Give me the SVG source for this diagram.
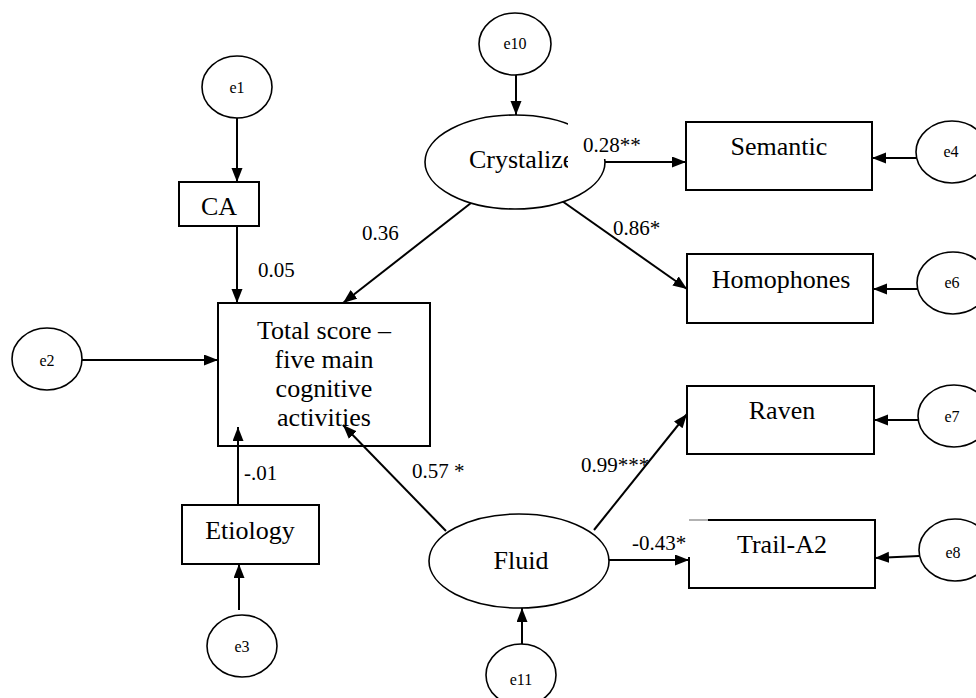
<svg xmlns="http://www.w3.org/2000/svg" width="976" height="698" viewBox="0 0 976 698">
<defs>
<marker id="ah" markerUnits="userSpaceOnUse" markerWidth="15" markerHeight="12" refX="14" refY="5.5" orient="auto">
<path d="M0,0 L14,5.5 L0,11 z" fill="#000"/>
</marker>
<clipPath id="cryclip"><rect x="400" y="100" width="168" height="100"/></clipPath>
<style>
.box{fill:#fff;stroke:#000;stroke-width:2}
.ell{fill:#fff;stroke:#000;stroke-width:1.6}
.c{fill:none;stroke:#000;stroke-width:2;marker-end:url(#ah)}
.t{font-family:"Liberation Serif","Times New Roman",serif;font-size:26px;fill:#000;text-anchor:middle}
.e{font-family:"Liberation Serif","Times New Roman",serif;font-size:16px;fill:#000;text-anchor:middle}
.l{font-family:"Liberation Serif","Times New Roman",serif;font-size:21px;fill:#000}
</style>
</defs>
<rect width="976" height="698" fill="#fff"/>

<g id="connectors">
<line class="c" x1="237" y1="118" x2="237" y2="182"/>
<line class="c" x1="237" y1="226" x2="237" y2="303"/>
<line class="c" x1="82" y1="360" x2="218" y2="360"/>
<line class="c" x1="238" y1="505" x2="238" y2="427"/>
<line class="c" x1="239" y1="610" x2="239" y2="564"/>
<line class="c" x1="516" y1="75" x2="516" y2="115"/>
<line class="c" x1="471" y1="203" x2="343" y2="303"/>
<line class="c" x1="562" y1="201" x2="687" y2="289"/>
<line class="c" x1="604" y1="162" x2="686" y2="162"/>
<line class="c" x1="916" y1="158" x2="872" y2="158"/>
<line class="c" x1="917" y1="289" x2="873" y2="289"/>
<line class="c" x1="918" y1="420" x2="874" y2="420"/>
<line class="c" x1="919" y1="556" x2="875" y2="558"/>
<line class="c" x1="446" y1="531" x2="343" y2="425"/>
<line class="c" x1="594" y1="530" x2="687" y2="414"/>
<line class="c" x1="609" y1="560" x2="689" y2="560"/>
<line class="c" x1="522" y1="644" x2="522" y2="608"/>
</g>

<g id="e1"><ellipse class="ell" cx="237" cy="87" rx="35" ry="31"/><text class="e" x="237" y="93">e1</text></g>
<g id="CA"><rect class="box" x="179" y="182" width="80" height="44"/><text class="t" x="219" y="215">CA</text></g>
<g id="e2"><ellipse class="ell" cx="47" cy="359" rx="35" ry="31"/><text class="e" x="47" y="366">e2</text></g>
<g id="total"><rect class="box" x="218" y="303" width="212" height="143" style="fill:none"/>
<text class="t" x="324" y="339">Total score –</text>
<text class="t" x="324" y="368">five main</text>
<text class="t" x="324" y="397">cognitive</text>
<text class="t" x="324" y="426">activities</text></g>
<g id="etiology"><rect class="box" x="182" y="505" width="137" height="59"/><text class="t" x="250" y="539">Etiology</text></g>
<g id="e3"><ellipse class="ell" cx="242" cy="646" rx="35" ry="31"/><text class="e" x="242" y="652">e3</text></g>
<g id="e10"><ellipse class="ell" cx="515" cy="44" rx="36" ry="31"/><text class="e" x="515" y="49">e10</text></g>
<g id="crystalized"><ellipse class="ell" cx="515" cy="162" rx="90" ry="47"/>
<rect x="568" y="110" width="50" height="49" fill="#fff"/>
<text class="t" x="469" y="168" style="text-anchor:start" clip-path="url(#cryclip)">Crystalized</text></g>
<g id="semantic"><rect class="box" x="686" y="122" width="186" height="68"/><text class="t" x="779" y="155">Semantic</text></g>
<g id="e4"><ellipse class="ell" cx="952" cy="152" rx="36" ry="31"/><text class="e" x="951" y="157">e4</text></g>
<g id="homophones"><rect class="box" x="687" y="254" width="186" height="69"/><text class="t" x="781" y="288">Homophones</text></g>
<g id="e6"><ellipse class="ell" cx="953" cy="283" rx="36" ry="31"/><text class="e" x="952" y="288">e6</text></g>
<g id="raven"><rect class="box" x="687" y="386" width="187" height="68"/><text class="t" x="782" y="419">Raven</text></g>
<g id="e7"><ellipse class="ell" cx="954" cy="416" rx="36" ry="31"/><text class="e" x="952" y="422">e7</text></g>
<g id="trail"><path d="M708,520 H875 V588 H689 V557" fill="#fff" stroke="#000" stroke-width="2"/><line x1="689" y1="520" x2="708" y2="520" stroke="#999" stroke-width="1.5"/><text class="t" x="782" y="553">Trail-A2</text></g>
<g id="e8"><ellipse class="ell" cx="955" cy="550" rx="36" ry="31"/><text class="e" x="953" y="558">e8</text></g>
<g id="fluid"><ellipse class="ell" cx="519" cy="561" rx="90" ry="47"/><text class="t" x="521" y="569">Fluid</text></g>
<g id="e11"><ellipse class="ell" cx="521" cy="675" rx="35" ry="31"/><text class="e" x="521" y="685">e11</text></g>

<g id="labels">
<text class="l" x="258" y="277">0.05</text>
<text class="l" x="362" y="240">0.36</text>
<text class="l" x="583" y="152">0.28**</text>
<text class="l" x="613" y="235">0.86*</text>
<text class="l" x="244" y="480">-.01</text>
<text class="l" x="412" y="478">0.57 *</text>
<text class="l" x="581" y="472">0.99***</text>
<text class="l" x="632" y="550">-0.43*</text>
</g>
</svg>
